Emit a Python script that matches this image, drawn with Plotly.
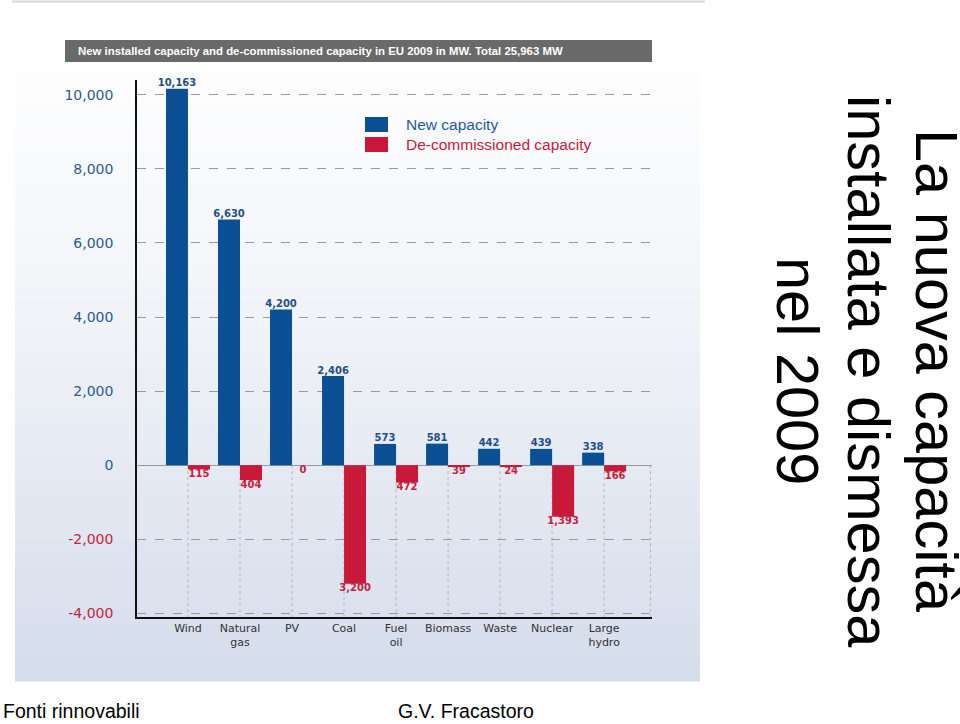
import plotly.graph_objects as go

categories = ["Wind", "Natural<br>gas", "PV", "Coal", "Fuel<br>oil", "Biomass", "Waste", "Nuclear", "Large<br>hydro"]
new_capacity = [10163, 6630, 4200, 2406, 573, 581, 442, 439, 338]
decommissioned = [115, 404, 0, 3200, 472, 39, 24, 1393, 166]
y_ticks = [-4000, -2000, 0, 2000, 4000, 6000, 8000, 10000]
y_tick_text = ["-4,000", "-2,000", "0", "2,000", "4,000", "6,000", "8,000", "10,000"]
side_title = ["La nuova capacità", "installata e dismessa", "nel 2009"]

BLUE = "#0b4f95"
RED = "#c8193a"
LBLUE = "#1e4f8c"
LRED = "#c41f3d"

W, H = 960, 724
L, R, T, B = 137, 652, 80, 617


def px(x):
    return (x - L) / (R - L)


def py(y):
    return (B - y) / (B - T)


xs = list(range(len(categories)))
half = (1 - 0.154) / 4

fig = go.Figure()
fig.add_trace(go.Bar(x=xs, y=new_capacity, name="New capacity", marker_color=BLUE,
                     marker_line_width=0, hoverinfo="skip"))
fig.add_trace(go.Bar(x=xs, y=[-v for v in decommissioned], name="De-commissioned capacity",
                     marker_color=RED, marker_line_width=0, hoverinfo="skip"))
fig.add_trace(go.Scatter(x=[i - half for i in xs], y=new_capacity, mode="text",
                         text=[f"{v:,}" for v in new_capacity], textposition="top center",
                         textfont=dict(family="DejaVu Sans", size=10, color=LBLUE, weight="bold"),
                         cliponaxis=False, hoverinfo="skip", showlegend=False))
fig.add_trace(go.Scatter(x=[i + half for i in xs], y=[-v for v in decommissioned], mode="text",
                         text=[f"{v:,}" for v in decommissioned], textposition="bottom center",
                         textfont=dict(family="DejaVu Sans", size=10, color=LRED, weight="bold"),
                         cliponaxis=False, hoverinfo="skip", showlegend=False))

shapes = []
# panel gradient background
n = 48
top, bot = 0, 681
for k in range(n):
    y0 = top + (bot - top) * k / n
    y1 = top + (bot - top) * (k + 1) / n
    t = ((k + 0.5) / n) ** 1.4
    c0 = (255, 255, 255)
    c1 = (212, 219, 234)
    c = tuple(round(c0[j] + (c1[j] - c0[j]) * t) for j in range(3))
    shapes.append(dict(type="rect", xref="paper", yref="paper", x0=px(15), x1=px(700),
                       y0=py(y1 + 0.5), y1=py(y0), fillcolor=f"rgb{c}", line_width=0, layer="below"))
# thin top rule
shapes.append(dict(type="line", xref="paper", yref="paper", x0=px(12), x1=px(705),
                   y0=py(1.5), y1=py(1.5), line=dict(color="#d8d8d8", width=2), layer="below"))
# title bar
shapes.append(dict(type="rect", xref="paper", yref="paper", x0=px(65), x1=px(652),
                   y0=py(62), y1=py(40), fillcolor="#6a6a6a", line_width=0, layer="below"))
# dotted separators below zero
for i in xs:
    shapes.append(dict(type="line", xref="x", yref="y", x0=i, x1=i, y0=0, y1=-4100,
                       line=dict(color="#b5b5b5", width=1, dash="dot"), layer="below"))
shapes.append(dict(type="line", xref="paper", yref="y", x0=0.997, x1=0.997, y0=0, y1=-4100,
                   line=dict(color="#b5b5b5", width=1, dash="dot"), layer="below"))
# legend swatches
shapes.append(dict(type="rect", xref="paper", yref="paper", x0=px(365), x1=px(388),
                   y0=py(132), y1=py(117), fillcolor=BLUE, line_width=0))
shapes.append(dict(type="rect", xref="paper", yref="paper", x0=px(365), x1=px(388),
                   y0=py(152), y1=py(137), fillcolor=RED, line_width=0))

annotations = [
    dict(xref="paper", yref="paper", x=px(76), y=py(51), xanchor="left", yanchor="middle",
         text="New installed capacity and de-commissioned capacity in EU 2009 in MW. Total 25,963 MW",
         showarrow=False, font=dict(family="Liberation Sans", size=11.4, color="white", weight="bold")),
    dict(xref="paper", yref="paper", x=px(404), y=py(124.5), xanchor="left", yanchor="middle",
         text="New capacity", showarrow=False,
         font=dict(family="Liberation Sans", size=15.5, color="#1e5aa0")),
    dict(xref="paper", yref="paper", x=px(404), y=py(144.5), xanchor="left", yanchor="middle",
         text="De-commissioned capacity", showarrow=False,
         font=dict(family="Liberation Sans", size=15.5, color="#c8193a")),
    dict(xref="paper", yref="paper", x=px(2), y=py(711), xanchor="left", yanchor="middle",
         text="Fonti rinnovabili", showarrow=False, borderpad=0,
         font=dict(family="Liberation Sans", size=19.5, color="black")),
    dict(xref="paper", yref="paper", x=px(397), y=py(711), xanchor="left", yanchor="middle",
         text="G.V. Fracastoro", showarrow=False, borderpad=0,
         font=dict(family="Liberation Sans", size=19.5, color="black")),
]
for line_text, cx in zip(side_title, [936, 868, 797]):
    annotations.append(dict(xref="paper", yref="paper", x=px(cx), y=py(371),
                            xanchor="center", yanchor="middle", text=line_text, textangle=90,
                            showarrow=False, borderpad=0,
                            font=dict(family="Liberation Sans", size=59.5, color="black")))

tick_text_colored = [
    f'<span style="color:{"#c4243f" if v < 0 else "#2b5a97"}">{t}</span>'
    for v, t in zip(y_ticks, y_tick_text)
]

fig.update_layout(
    width=W, height=H,
    margin=dict(l=L, r=W - R, t=T, b=H - B),
    paper_bgcolor="white", plot_bgcolor="rgba(0,0,0,0)",
    barmode="group", bargap=0.154, bargroupgap=0,
    showlegend=False,
    shapes=shapes, annotations=annotations,
    xaxis=dict(range=[-0.98, 8.92], tickvals=xs, ticktext=categories, showgrid=False,
               zeroline=False, showline=True, linecolor="#111", linewidth=1.5, ticks="",
               tickfont=dict(family="DejaVu Sans", size=11, color="#333")),
    yaxis=dict(range=[-4100, 10400], tickvals=y_ticks, ticktext=tick_text_colored,
               showgrid=True, gridcolor="#9a9a9a", griddash="dash", gridwidth=1,
               zeroline=True, zerolinecolor="#9a9a9a", zerolinewidth=1,
               showline=True, linecolor="#111", linewidth=1.5, ticks="",
               ticklabelstandoff=19,
               tickfont=dict(family="DejaVu Sans", size=14, color="#2b5a97")),
)

fig.write_html("out.html", config={"displayModeBar": False},
               post_script="document.body.style.margin='0';document.body.style.overflow='hidden';")
